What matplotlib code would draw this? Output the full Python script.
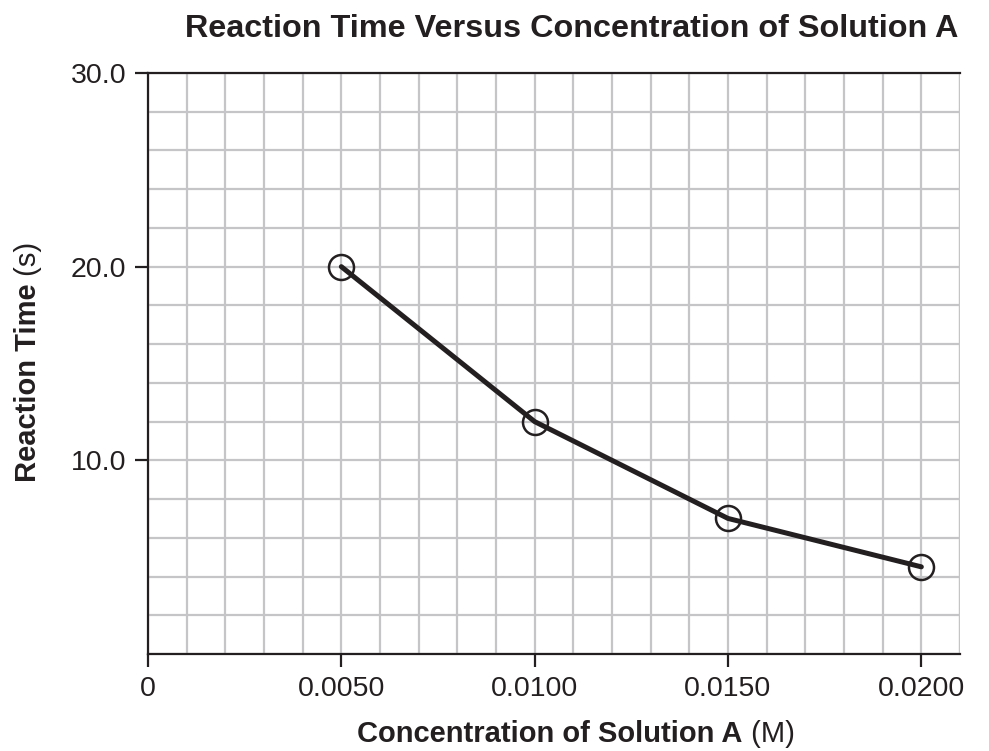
"""
Reaction time vs concentration of solution A
"""

import numpy as np
import matplotlib
matplotlib.use('Agg')
import matplotlib.pyplot as plt
from matplotlib.ticker import MultipleLocator

plt.rcParams['font.family'] = ['Liberation Sans', 'DejaVu Sans']

# data
concentration = [0.0050, 0.0100, 0.0150, 0.0200]
reaction_time = [20.0, 12.0, 7.0, 4.5]

x_ticks = [0, 0.0050, 0.0100, 0.0150, 0.0200]
x_tick_labels = ["0", "0.0050", "0.0100", "0.0150", "0.0200"]
y_ticks = [10.0, 20.0, 30.0]
y_tick_labels = ["10.0", "20.0", "30.0"]

INK = "#231f20"
GRID = "#c5c5c8"

fig = plt.figure(figsize=(9.89, 7.51), dpi=100)
ax = fig.add_axes([148 / 989, 1 - 654 / 751, (960 - 148) / 989, (654 - 73) / 751])

ax.set_xlim(0, 0.021)
ax.set_ylim(0, 30)

# grid
ax.xaxis.set_minor_locator(MultipleLocator(0.001))
ax.yaxis.set_minor_locator(MultipleLocator(2))
ax.grid(True, which='minor', color=GRID, linewidth=1.6)
ax.grid(True, which='major', color=GRID, linewidth=1.6)
ax.axvline(0.021, color=GRID, linewidth=1.6, zorder=0.5)
ax.set_axisbelow(True)

ax.plot(concentration, reaction_time, color=INK, linewidth=3.6,
        solid_capstyle='round', zorder=3)
ax.plot(concentration, reaction_time, linestyle='none', marker='o',
        markersize=18, markerfacecolor='none', markeredgecolor=INK,
        markeredgewidth=1.8, zorder=4)

ax.set_xticks(x_ticks)
ax.set_xticklabels(x_tick_labels)
ax.set_yticks(y_ticks)
ax.set_yticklabels(y_tick_labels)
ax.tick_params(which='major', direction='out', length=9.5, width=1.6,
               color=INK, labelsize=20.5, labelcolor=INK, pad=6)
ax.tick_params(which='minor', length=0)

for side in ['left', 'bottom', 'top']:
    ax.spines[side].set_color(INK)
    ax.spines[side].set_linewidth(1.6)
ax.spines['right'].set_visible(False)

# title
fig.text(572 / 989, 1 - 29 / 751, "Reaction Time Versus Concentration of Solution A",
         ha='center', va='center', fontsize=23.3, fontweight='bold', color=INK)

# axis labels: bold name + regular unit
fig.canvas.draw()
renderer = fig.canvas.get_renderer()


def mixed_label(x, y, bold, regular, rotation=0):
    t1 = fig.text(0, 0, bold, fontsize=21, fontweight='bold', color=INK,
                  rotation=rotation)
    t2 = fig.text(0, 0, " " + regular, fontsize=21, color=INK, rotation=rotation)
    w1 = t1.get_window_extent(renderer)
    w2 = t2.get_window_extent(renderer)
    W, H = fig.bbox.width, fig.bbox.height
    if rotation == 0:
        total = w1.width + w2.width
        x0 = x - total / 2
        t1.set_position((x0 / W, 1 - y / H))
        t2.set_position(((x0 + w1.width) / W, 1 - y / H))
        t1.set_va('center')
        t2.set_va('center')
    else:
        total = w1.height + w2.height
        y0 = (H - y) - total / 2
        t1.set_position((x / W, y0 / H))
        t2.set_position((x / W, (y0 + w1.height) / H))
        t1.set_ha('center')
        t2.set_ha('center')
        t1.set_va('bottom')
        t2.set_va('bottom')


mixed_label(576, 734, "Concentration of Solution A", "(M)")
mixed_label(28, 362, "Reaction Time", "(s)", rotation=90)

fig.savefig("out.png", dpi=100)
